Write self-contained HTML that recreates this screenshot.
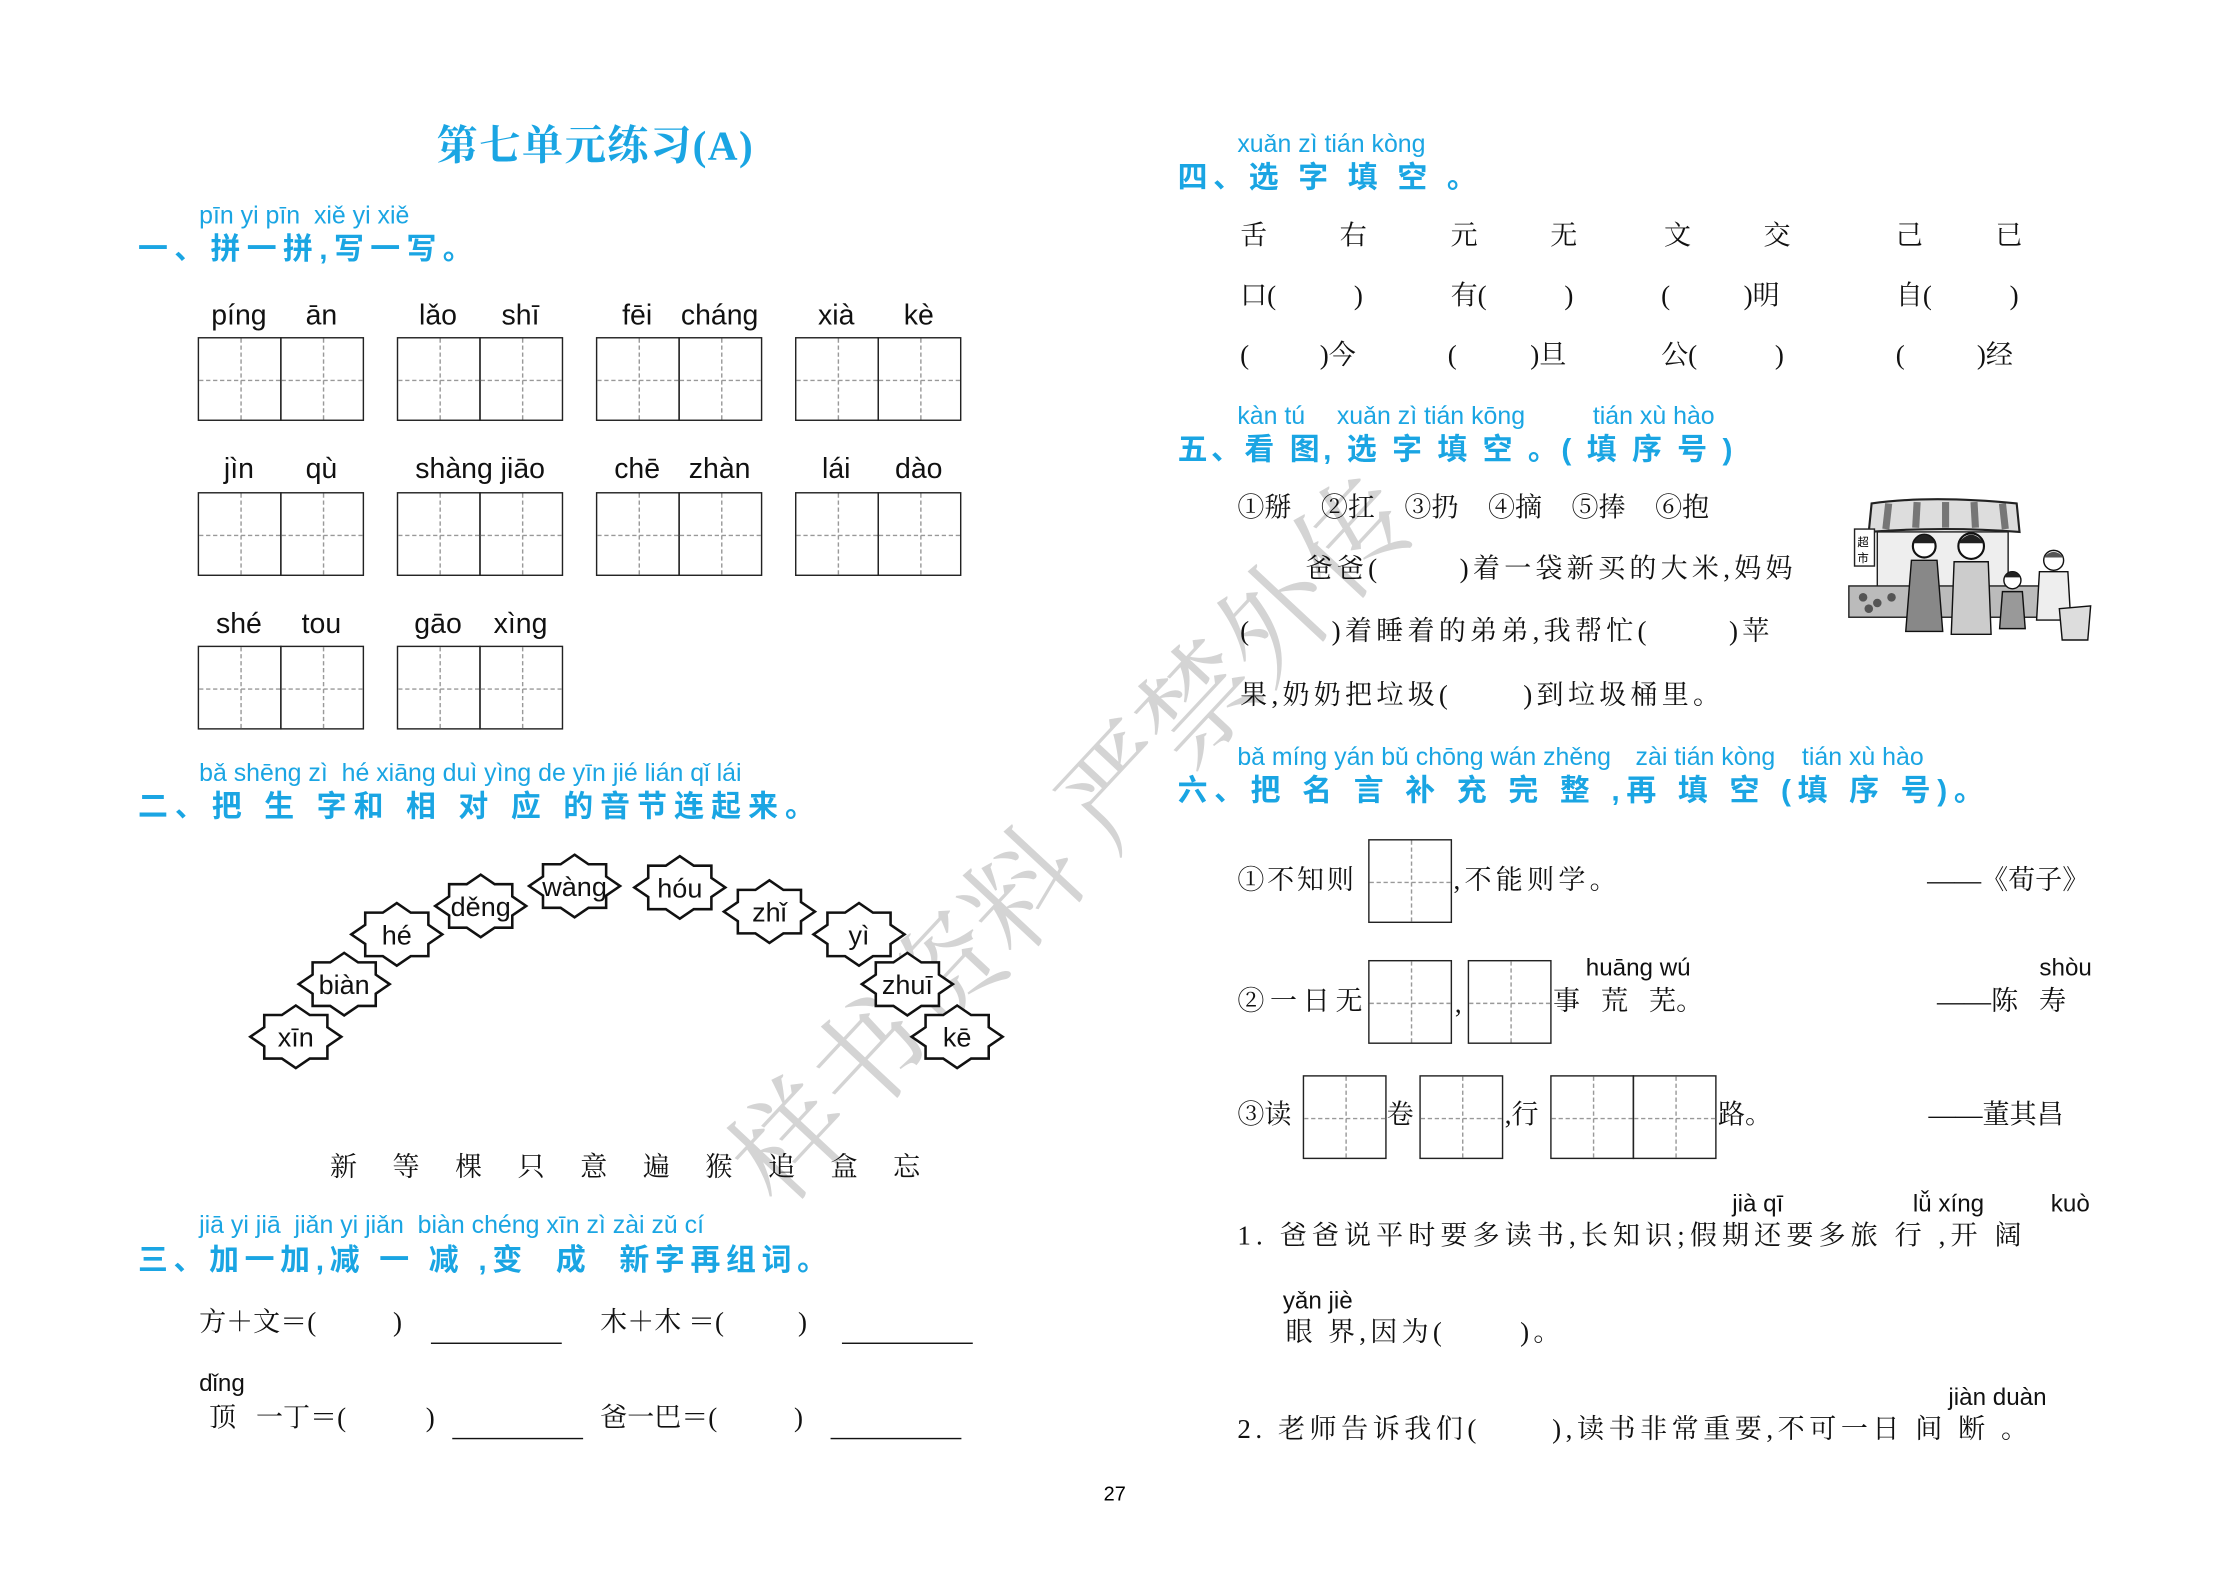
<!DOCTYPE html>
<html><head><meta charset="utf-8">
<style>
html,body{margin:0;padding:0;background:#fff;}
body{width:2220px;height:1571px;overflow:hidden;position:relative;}
#w{position:absolute;left:0;top:0;width:1561px;height:1105px;transform:scale(1.4222);transform-origin:0 0;}
.t{position:absolute;white-space:pre;line-height:1;}
.s{font-family:"Liberation Serif","Noto Serif CJK SC",serif;font-size:19px;color:#111;}
.h{font-family:"Liberation Sans","Noto Sans CJK SC",sans-serif;font-weight:bold;font-size:21px;color:#1aa5e3;letter-spacing:3px;}
.p{font-family:"Liberation Sans",sans-serif;font-size:17.5px;color:#1aa5e3;}
.pk{font-family:"Liberation Sans",sans-serif;font-size:20px;color:#111;}
.pk2{font-family:"Liberation Sans",sans-serif;font-size:17px;color:#111;}
.g{position:absolute;width:57px;height:57px;border:1px solid #222;box-sizing:content-box;}
.g::before{content:"";position:absolute;left:50%;top:0;height:100%;border-left:1px dashed #999;}
.g::after{content:"";position:absolute;top:50%;left:0;width:100%;border-top:1px dashed #999;}
.u{position:absolute;border-top:1px solid #111;width:92px;}
.c{text-align:center;width:80px;margin-left:-40px;}
.sp{display:inline-block;}
</style></head><body><div id="w">

<!-- watermark -->
<div class="t" style="left:495px;top:800px;font-family:'Noto Serif CJK SC',serif;font-size:80px;color:#d4d4d4;transform:rotate(-47deg);transform-origin:0 0;letter-spacing:0px;">样书资料 严禁外传</div>

<!-- title -->
<div class="t" style="left:307px;top:89px;font-family:'Liberation Serif','Noto Serif CJK SC',serif;font-weight:bold;font-size:29px;color:#1aa5e3;letter-spacing:1px;">第七单元练习(A)</div>

<!-- Section 1 -->
<div class="t p" style="left:140px;top:143px;">pīn yi pīn&nbsp;&nbsp;xiě yi xiě</div>
<div class="t h" style="left:97px;top:165px;letter-spacing:4.5px;">一、拼一拼,写一写。</div>

<div class="t pk c" style="left:168px;top:212px;">píng</div><div class="t pk c" style="left:226px;top:212px;">ān</div>
<div class="t pk c" style="left:308px;top:212px;">lǎo</div><div class="t pk c" style="left:366px;top:212px;">shī</div>
<div class="t pk c" style="left:448px;top:212px;">fēi</div><div class="t pk c" style="left:506px;top:212px;">cháng</div>
<div class="t pk c" style="left:588px;top:212px;">xià</div><div class="t pk c" style="left:646px;top:212px;">kè</div>

<div class="g" style="left:139px;top:237px"></div><div class="g" style="left:197px;top:237px"></div>
<div class="g" style="left:279px;top:237px"></div><div class="g" style="left:337px;top:237px"></div>
<div class="g" style="left:419px;top:237px"></div><div class="g" style="left:477px;top:237px"></div>
<div class="g" style="left:559px;top:237px"></div><div class="g" style="left:617px;top:237px"></div>

<div class="t pk c" style="left:168px;top:320px;">jìn</div><div class="t pk c" style="left:226px;top:320px;">qù</div>
<div class="t pk c" style="left:332px;top:320px;">shàng jiāo</div>
<div class="t pk c" style="left:448px;top:320px;">chē</div><div class="t pk c" style="left:506px;top:320px;">zhàn</div>
<div class="t pk c" style="left:588px;top:320px;">lái</div><div class="t pk c" style="left:646px;top:320px;">dào</div>

<div class="g" style="left:139px;top:346px"></div><div class="g" style="left:197px;top:346px"></div>
<div class="g" style="left:279px;top:346px"></div><div class="g" style="left:337px;top:346px"></div>
<div class="g" style="left:419px;top:346px"></div><div class="g" style="left:477px;top:346px"></div>
<div class="g" style="left:559px;top:346px"></div><div class="g" style="left:617px;top:346px"></div>

<div class="t pk c" style="left:168px;top:429px;">shé</div><div class="t pk c" style="left:226px;top:429px;">tou</div>
<div class="t pk c" style="left:308px;top:429px;">gāo</div><div class="t pk c" style="left:366px;top:429px;">xìng</div>
<div class="g" style="left:139px;top:454px"></div><div class="g" style="left:197px;top:454px"></div>
<div class="g" style="left:279px;top:454px"></div><div class="g" style="left:337px;top:454px"></div>

<!-- Section 2 -->
<div class="t p" style="left:140px;top:535px;">bǎ shēng zì&nbsp;&nbsp;hé xiāng duì yìng de yīn jié lián qǐ lái</div>
<div class="t h" style="left:97px;top:557px;letter-spacing:5px;">二、把 生 字和 相 对 应 的音节连起来。</div>

<svg style="position:absolute;left:0;top:0" width="760" height="800">
<defs><polygon id="st" points="0,-22 9.8,-15.3 22.2,-15.3 22.2,-6.7 32,0 22.2,6.7 22.2,15.3 9.8,15.3 0,22 -9.8,15.3 -22.2,15.3 -22.2,6.7 -32,0 -22.2,-6.7 -22.2,-15.3 -9.8,-15.3" fill="#fff" stroke="#111" stroke-width="1.8"/></defs>
<use href="#st" x="208" y="729"/><use href="#st" x="242" y="692"/><use href="#st" x="279" y="657"/>
<use href="#st" x="338" y="637"/><use href="#st" x="404" y="623"/><use href="#st" x="478" y="624"/>
<use href="#st" x="541" y="641"/><use href="#st" x="604" y="657"/><use href="#st" x="638" y="692"/>
<use href="#st" x="673" y="729"/>
<g font-family="Liberation Sans, sans-serif" font-size="19" text-anchor="middle" fill="#111">
<text x="208" y="736">xīn</text><text x="242" y="699">biàn</text><text x="279" y="664">hé</text>
<text x="338" y="644">děng</text><text x="404" y="630">wàng</text><text x="478" y="631">hóu</text>
<text x="541" y="648">zhǐ</text><text x="604" y="664">yì</text><text x="638" y="699">zhuī</text>
<text x="673" y="736">kē</text></g>
</svg>

<div class="t s" style="left:232px;top:812px;letter-spacing:25px;">新等棵只意遍猴追盒忘</div>

<!-- Section 3 -->
<div class="t p" style="left:140px;top:853px;">jiā yi jiā&nbsp;&nbsp;jiǎn yi jiǎn&nbsp;&nbsp;biàn chéng xīn zì zài zǔ cí</div>
<div class="t h" style="left:97px;top:876px;letter-spacing:4px;">三、加一加,减 一 减 ,变&nbsp;&nbsp;成&nbsp;&nbsp;新字再组词。</div>

<div class="t s" style="left:140px;top:921px;">方＋文＝(<span class="sp" style="width:54px"></span>)</div><div class="u" style="left:303px;top:944px"></div>
<div class="t s" style="left:422px;top:921px;">木＋木 ＝(<span class="sp" style="width:52px"></span>)</div><div class="u" style="left:592px;top:944px"></div>
<div class="t pk2" style="left:140px;top:964px;">dǐng</div>
<div class="t s" style="left:147px;top:988px;">顶<span class="sp" style="width:14px"></span>一丁＝(<span class="sp" style="width:56px"></span>)</div><div class="u" style="left:318px;top:1011px"></div>
<div class="t s" style="left:422px;top:988px;">爸一巴＝(<span class="sp" style="width:54px"></span>)</div><div class="u" style="left:584px;top:1011px"></div>

<div class="t" style="left:776px;top:1043px;font-family:'Liberation Sans',sans-serif;font-size:14px;">27</div>

<!-- Section 4 -->
<div class="t p" style="left:870px;top:93px;">xuǎn zì tián kòng</div>
<div class="t h" style="left:828px;top:115px;letter-spacing:4px;">四、选 字 填 空 。</div>
<div class="t s" style="left:872px;top:157px;">舌</div><div class="t s" style="left:942px;top:157px;">右</div>
<div class="t s" style="left:1020px;top:157px;">元</div><div class="t s" style="left:1090px;top:157px;">无</div>
<div class="t s" style="left:1170px;top:157px;">文</div><div class="t s" style="left:1240px;top:157px;">交</div>
<div class="t s" style="left:1333px;top:157px;">己</div><div class="t s" style="left:1403px;top:157px;">已</div>

<div class="t s" style="left:872px;top:199px;">口(</div><div class="t s" style="left:952px;top:199px;">)</div>
<div class="t s" style="left:1020px;top:199px;">有(</div><div class="t s" style="left:1100px;top:199px;">)</div>
<div class="t s" style="left:1168px;top:199px;">(</div><div class="t s" style="left:1226px;top:199px;">)明</div>
<div class="t s" style="left:1333px;top:199px;">自(</div><div class="t s" style="left:1413px;top:199px;">)</div>

<div class="t s" style="left:872px;top:241px;">(</div><div class="t s" style="left:928px;top:241px;">)今</div>
<div class="t s" style="left:1018px;top:241px;">(</div><div class="t s" style="left:1076px;top:241px;">)旦</div>
<div class="t s" style="left:1168px;top:241px;">公(</div><div class="t s" style="left:1248px;top:241px;">)</div>
<div class="t s" style="left:1333px;top:241px;">(</div><div class="t s" style="left:1390px;top:241px;">)经</div>

<!-- Section 5 -->
<div class="t p" style="left:870px;top:284px;">kàn tú</div>
<div class="t p" style="left:940px;top:284px;">xuǎn zì tián kōng</div>
<div class="t p" style="left:1120px;top:284px;">tián xù hào</div>
<div class="t h" style="left:828px;top:306px;letter-spacing:2.5px;">五、看 图, 选 字 填 空 。( 填 序 号 )</div>
<div class="t s" style="left:870px;top:348px;word-spacing:16px;">①掰 ②扛 ③扔 ④摘 ⑤捧 ⑥抱</div>
<div class="t s" style="left:918px;top:391px;letter-spacing:3px;">爸爸(<span class="sp" style="width:55px"></span>)着一袋新买的大米,妈妈</div>
<div class="t s" style="left:872px;top:435px;letter-spacing:3px;">(<span class="sp" style="width:55px"></span>)着睡着的弟弟,我帮忙(<span class="sp" style="width:55px"></span>)苹</div>
<div class="t s" style="left:872px;top:480px;letter-spacing:3px;">果,奶奶把垃圾(<span class="sp" style="width:50px"></span>)到垃圾桶里。</div>

<!-- market illustration -->
<svg style="position:absolute;left:1298px;top:350px" width="176" height="108" viewBox="0 0 176 108">
<path d="M18,4 Q60,-2 120,4 L122,24 Q70,20 16,24 Z" fill="#ddd" stroke="#222" stroke-width="1.5"/>
<g stroke="#333" stroke-width="5" opacity=".6"><line x1="30" y1="4" x2="28" y2="22"/><line x1="50" y1="3" x2="49" y2="21"/><line x1="70" y1="3" x2="70" y2="21"/><line x1="90" y1="3" x2="91" y2="21"/><line x1="110" y1="4" x2="112" y2="22"/></g>
<rect x="22" y="24" width="92" height="40" fill="#eee" stroke="#222"/>
<rect x="6" y="22" width="14" height="26" fill="#fff" stroke="#222"/>
<text x="8" y="34" font-size="8" font-family="Noto Sans CJK SC,sans-serif">超</text><text x="8" y="45" font-size="8" font-family="Noto Sans CJK SC,sans-serif">市</text>
<rect x="2" y="62" width="150" height="22" fill="#bbb" stroke="#222"/>
<g fill="#555"><circle cx="12" cy="70" r="3"/><circle cx="22" cy="74" r="3"/><circle cx="32" cy="70" r="3"/><circle cx="16" cy="78" r="3"/></g>
<circle cx="55" cy="34" r="8" fill="#fff" stroke="#111" stroke-width="1.5"/><path d="M47,32 Q55,20 63,32" fill="#222"/>
<path d="M46,44 L64,44 L68,94 L42,94 Z" fill="#888" stroke="#111"/>
<circle cx="88" cy="34" r="9" fill="#fff" stroke="#111" stroke-width="1.5"/><path d="M79,32 Q88,20 97,32" fill="#222"/>
<path d="M76,45 L100,45 L102,96 L74,96 Z" fill="#ccc" stroke="#111"/>
<circle cx="117" cy="58" r="6" fill="#fff" stroke="#111"/><path d="M111,56 Q117,48 123,56" fill="#222"/>
<path d="M110,66 L124,66 L126,92 L108,92 Z" fill="#999" stroke="#111"/>
<circle cx="146" cy="44" r="7" fill="#fff" stroke="#111"/><path d="M139,42 Q146,34 153,42" fill="#555"/>
<path d="M136,52 L156,52 L158,86 L134,86 Z" fill="#eee" stroke="#111"/>
<path d="M150,78 L172,76 L170,100 L152,100 Z" fill="#ddd" stroke="#111"/>
</svg>

<!-- Section 6 -->
<div class="t p" style="left:870px;top:524px;">bǎ míng yán bǔ chōng wán zhěng</div>
<div class="t p" style="left:1150px;top:524px;">zài tián kòng</div>
<div class="t p" style="left:1267px;top:524px;">tián xù hào</div>
<div class="t h" style="left:828px;top:546px;letter-spacing:4.7px;">六、把 名 言 补 充 完 整 ,再 填 空 (填 序 号)。</div>

<div class="t s" style="left:870px;top:610px;letter-spacing:2px;">①不知则</div>
<div class="g" style="left:962px;top:590px"></div>
<div class="t s" style="left:1022px;top:610px;letter-spacing:3px;">,不能则学。</div>
<div class="t s" style="left:1355px;top:610px;">——《荀子》</div>

<div class="t pk2" style="left:1115px;top:672px;">huāng wú</div>
<div class="t pk2" style="left:1434px;top:672px;">shòu</div>
<div class="t s" style="left:870px;top:695px;letter-spacing:4px;">②一日无</div>
<div class="g" style="left:962px;top:675px"></div>
<div class="t s" style="left:1023px;top:697px;">,</div>
<div class="g" style="left:1032px;top:675px"></div>
<div class="t s" style="left:1092px;top:695px;word-spacing:10px;">事 荒 芜。</div>
<div class="t s" style="left:1362px;top:695px;word-spacing:10px;">——陈 寿</div>

<div class="t s" style="left:870px;top:775px;">③读</div>
<div class="g" style="left:916px;top:756px"></div>
<div class="t s" style="left:975px;top:775px;">卷</div>
<div class="g" style="left:998px;top:756px"></div>
<div class="t s" style="left:1058px;top:775px;">,行</div>
<div class="g" style="left:1090px;top:756px"></div><div class="g" style="left:1148px;top:756px"></div>
<div class="t s" style="left:1208px;top:775px;">路。</div>
<div class="t s" style="left:1356px;top:775px;">——董其昌</div>

<div class="t pk2" style="left:1218px;top:838px;">jià qī</div>
<div class="t pk2" style="left:1345px;top:838px;">lǚ xíng</div>
<div class="t pk2" style="left:1442px;top:838px;">kuò</div>
<div class="t s" style="left:870px;top:860px;letter-spacing:3.6px;">1. 爸爸说平时要多读书,长知识;假期还要多旅 行 ,开 阔</div>
<div class="t pk2" style="left:902px;top:906px;">yǎn jiè</div>
<div class="t s" style="left:904px;top:928px;letter-spacing:3px;">眼 界,因为(<span class="sp" style="width:52px"></span>)。</div>
<div class="t pk2" style="left:1370px;top:974px;">jiàn duàn</div>
<div class="t s" style="left:870px;top:996px;letter-spacing:3.2px;">2. 老师告诉我们(<span class="sp" style="width:50px"></span>),读书非常重要,不可一日 间 断 。</div>

</div></body></html>
